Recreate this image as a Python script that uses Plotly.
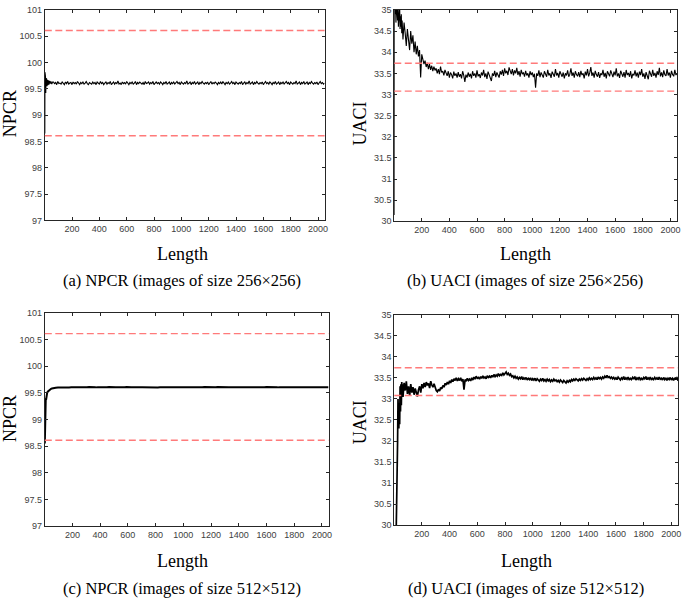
import plotly.graph_objects as go

W, H = 685, 601

# sampling grids for the settled part of the curves
STEP8_X = list(range(64, 2049, 8))
STEP16_X = list(range(64, 2049, 16))

# (a) NPCR, 256x256
A_EARLY_X = [1, 2, 3, 4, 5, 6, 8, 10, 12, 14, 17, 20, 23, 27, 31, 36, 41, 46, 52, 58]
A_EARLY_Y = [98.65, 99.82, 99.05, 99.78, 99.3, 99.74, 99.42, 99.7, 99.5, 99.69,
             99.55, 99.67, 99.57, 99.66, 99.58, 99.65, 99.6, 99.64, 99.59, 99.63]
A_MAIN_Y = [
    99.63, 99.60, 99.62, 99.58, 99.64, 99.60, 99.61, 99.59, 99.63, 99.61,
    99.58, 99.63, 99.60, 99.64, 99.59, 99.61, 99.62, 99.58, 99.63, 99.60,
    99.62, 99.59, 99.64, 99.61, 99.58, 99.62, 99.60, 99.63, 99.59, 99.61,
    99.64, 99.60, 99.58, 99.62, 99.61, 99.59, 99.63, 99.60, 99.62, 99.58,
    99.63, 99.61, 99.59, 99.64, 99.60, 99.62, 99.58, 99.61, 99.63, 99.59,
    99.62, 99.60, 99.64, 99.58, 99.61, 99.63, 99.59, 99.62, 99.60, 99.65,
    99.59, 99.61, 99.58, 99.63, 99.60, 99.62, 99.59, 99.64, 99.61, 99.58,
    99.62, 99.60, 99.63, 99.59, 99.61, 99.64, 99.58, 99.62, 99.60, 99.63,
    99.61, 99.59, 99.62, 99.58, 99.64, 99.60, 99.61, 99.63, 99.59, 99.62,
    99.60, 99.64, 99.58, 99.61, 99.63, 99.60, 99.62, 99.59, 99.63, 99.61,
    99.58, 99.62, 99.60, 99.64, 99.59, 99.61, 99.63, 99.58, 99.62, 99.60,
    99.63, 99.59, 99.61, 99.64, 99.60, 99.62, 99.58, 99.63, 99.61, 99.59,
    99.62, 99.60, 99.65, 99.59, 99.61, 99.63, 99.58, 99.62, 99.60, 99.64,
    99.59, 99.61, 99.63, 99.58, 99.62, 99.60, 99.64, 99.61, 99.59, 99.62,
    99.60, 99.63, 99.58, 99.61, 99.64, 99.59, 99.62, 99.60, 99.63, 99.61,
    99.58, 99.62, 99.60, 99.63, 99.59, 99.64, 99.61, 99.58, 99.62, 99.60,
    99.63, 99.59, 99.61, 99.64, 99.60, 99.62, 99.58, 99.63, 99.61, 99.59,
    99.62, 99.60, 99.64, 99.58, 99.61, 99.63, 99.59, 99.62, 99.60, 99.65,
    99.59, 99.61, 99.63, 99.58, 99.62, 99.60, 99.64, 99.61, 99.59, 99.62,
    99.60, 99.63, 99.58, 99.61, 99.64, 99.60, 99.62, 99.59, 99.63, 99.61,
    99.58, 99.62, 99.60, 99.64, 99.59, 99.61, 99.63, 99.58, 99.62, 99.60,
    99.63, 99.59, 99.61, 99.64, 99.60, 99.62, 99.58, 99.63, 99.61, 99.59,
    99.62, 99.60, 99.65, 99.59, 99.61, 99.63, 99.58, 99.62, 99.60, 99.64,
    99.59, 99.61, 99.63, 99.58, 99.62, 99.60, 99.64, 99.61, 99.59, 99.62,
    99.60, 99.63, 99.58, 99.61, 99.64, 99.60, 99.62, 99.59, 99.61,
]

# (b) UACI, 256x256
B_EARLY_X = [1, 2, 4, 6, 8, 10, 13, 16, 19, 22, 25, 28, 31, 34, 37, 40, 43, 46, 49, 52, 55, 58]
B_EARLY_Y = [30.15, 35.3, 34.8, 35.2, 34.9, 35.4, 34.7, 35.1, 34.85, 35.25, 34.75,
             35.05, 34.6, 34.95, 34.7, 35.1, 34.55, 34.85, 34.6, 34.9, 34.45, 34.75]
B_MAIN_Y = [
    34.30, 34.70, 34.45, 34.15, 34.55, 34.35, 34.05, 34.50, 34.20, 34.40,
    34.00, 34.25, 33.95, 34.15, 33.90, 34.05, 33.40, 33.95, 33.85, 33.72,
    33.80, 33.65, 33.75, 33.60, 33.72, 33.58, 33.68, 33.55, 33.66, 33.57,
    33.62, 33.50, 33.60, 33.48, 33.66, 33.52, 33.55, 33.45, 33.58, 33.50,
    33.44, 33.55, 33.40, 33.52, 33.47, 33.38, 33.54, 33.44, 33.50, 33.40,
    33.53, 33.42, 33.48, 33.38, 33.55, 33.45, 33.30, 33.47, 33.40, 33.52,
    33.42, 33.49, 33.38, 33.55, 33.44, 33.50, 33.40, 33.57, 33.43, 33.48,
    33.39, 33.52, 33.45, 33.58, 33.41, 33.50, 33.37, 33.54, 33.46, 33.42,
    33.32, 33.50, 33.44, 33.56, 33.41, 33.52, 33.46, 33.40, 33.55, 33.47,
    33.58, 33.44, 33.62, 33.50, 33.56, 33.46, 33.64, 33.52, 33.48, 33.60,
    33.45, 33.57, 33.50, 33.63, 33.46, 33.55, 33.42, 33.58, 33.48, 33.52,
    33.42, 33.56, 33.45, 33.50, 33.40, 33.55, 33.46, 33.52, 33.41, 33.49,
    33.16, 33.50, 33.44, 33.57, 33.41, 33.52, 33.46, 33.40, 33.55, 33.47,
    33.42, 33.58, 33.45, 33.50, 33.39, 33.54, 33.47, 33.42, 33.60, 33.45,
    33.51, 33.40, 33.55, 33.46, 33.42, 33.52, 33.38, 33.50, 33.45, 33.57,
    33.42, 33.48, 33.62, 33.44, 33.52, 33.40, 33.55, 33.47, 33.43, 33.53,
    33.41, 33.56, 33.46, 33.50, 33.38, 33.54, 33.45, 33.60, 33.43, 33.51,
    33.65, 33.44, 33.52, 33.40, 33.56, 33.47, 33.42, 33.53, 33.39, 33.50,
    33.46, 33.58, 33.42, 33.51, 33.38, 33.55, 33.46, 33.43, 33.57, 33.48,
    33.41, 33.54, 33.45, 33.62, 33.43, 33.50, 33.39, 33.56, 33.47, 33.42,
    33.53, 33.40, 33.58, 33.46, 33.51, 33.42, 33.55, 33.38, 33.49, 33.45,
    33.57, 33.43, 33.52, 33.40, 33.54, 33.46, 33.60, 33.42, 33.50, 33.37,
    33.53, 33.45, 33.36, 33.56, 33.47, 33.42, 33.58, 33.44, 33.51, 33.40,
    33.55, 33.46, 33.63, 33.43, 33.52, 33.41, 33.57, 33.47, 33.44, 33.60,
    33.45, 33.52, 33.40, 33.56, 33.47, 33.43, 33.58, 33.46, 33.50,
]

# (c) NPCR, 512x512
C_EARLY_X = [1, 2, 3, 4, 5, 6, 8, 10, 12, 15, 18, 22, 26, 30, 35, 40, 46, 52, 58]
C_EARLY_Y = [98.55, 99.05, 99.2, 99.12, 99.32, 99.28, 99.4, 99.37, 99.45, 99.47,
             99.5, 99.52, 99.53, 99.55, 99.56, 99.57, 99.575, 99.58, 99.585]
C_MAIN_Y = [
    99.590, 99.595, 99.600, 99.598, 99.603, 99.600, 99.605, 99.601, 99.604, 99.600,
    99.606, 99.602, 99.604, 99.600, 99.605, 99.603, 99.607, 99.601, 99.604, 99.602,
    99.606, 99.603, 99.605, 99.601, 99.604, 99.607, 99.602, 99.605, 99.603, 99.606,
    99.602, 99.605, 99.603, 99.607, 99.601, 99.604, 99.606, 99.602, 99.605, 99.603,
    99.606, 99.604, 99.602, 99.605, 99.603, 99.607, 99.604, 99.601, 99.605, 99.603,
    99.606, 99.602, 99.605, 99.608, 99.603, 99.605, 99.602, 99.606, 99.604, 99.607,
    99.603, 99.605, 99.610, 99.604, 99.606, 99.602, 99.605, 99.603, 99.607, 99.604,
    99.606, 99.602, 99.605, 99.603, 99.607, 99.604, 99.606, 99.602, 99.605, 99.603,
    99.606, 99.604, 99.602, 99.605, 99.603, 99.607, 99.604, 99.606, 99.602, 99.605,
    99.603, 99.606, 99.604, 99.602, 99.605, 99.603, 99.607, 99.604, 99.606, 99.603,
    99.605, 99.602, 99.606, 99.604, 99.607, 99.603, 99.610, 99.605, 99.602, 99.606,
    99.604, 99.603, 99.605, 99.602, 99.606, 99.604, 99.603, 99.605, 99.602, 99.604,
    99.606, 99.603, 99.605, 99.602, 99.604,
]

# (d) UACI, 512x512
D_EARLY_X = [1, 5, 10, 15, 18, 20, 22, 25, 28, 31, 34, 37, 40, 43, 46, 49, 52, 55, 58, 61]
D_EARLY_Y = [27.5, 28.6, 29.4, 29.9, 30.5, 31.6, 30.8, 32.0, 33.0, 32.5, 32.3, 32.9,
             32.4, 33.3, 32.7, 33.35, 32.85, 33.4, 33.05, 33.35]
D_MAIN_Y = [
    33.05, 33.38, 33.20, 33.42, 33.12, 33.30, 33.08, 33.35, 33.15, 33.28,
    33.10, 33.25, 33.18, 33.06, 33.22, 33.30, 33.15, 33.35, 33.25, 33.38,
    33.28, 33.40, 33.32, 33.37, 33.26, 33.42, 33.33, 33.28, 33.36, 33.25,
    33.20, 33.17, 33.23, 33.19, 33.27, 33.24, 33.32, 33.28, 33.37, 33.33,
    33.40, 33.35, 33.43, 33.38, 33.46, 33.41, 33.48, 33.44, 33.50, 33.43,
    33.48, 33.44, 33.50, 33.42, 33.47, 33.22, 33.46, 33.42, 33.49, 33.44,
    33.47, 33.43, 33.50, 33.45, 33.52, 33.47, 33.54, 33.49, 33.51, 33.47,
    33.53, 33.49, 33.55, 33.50, 33.52, 33.48, 33.55, 33.51, 33.54, 33.50,
    33.56, 33.52, 33.58, 33.53, 33.57, 33.54, 33.60, 33.55, 33.58, 33.56,
    33.62, 33.57, 33.60, 33.64, 33.58, 33.61, 33.56, 33.59, 33.53, 33.55,
    33.50, 33.54, 33.49, 33.52, 33.47, 33.51, 33.48, 33.53, 33.46, 33.50,
    33.47, 33.51, 33.45, 33.49, 33.46, 33.50, 33.44, 33.48, 33.45, 33.49,
    33.43, 33.48, 33.45, 33.42, 33.47, 33.44, 33.49, 33.43, 33.46, 33.42,
    33.47, 33.43, 33.46, 33.41, 33.45, 33.42, 33.47, 33.43, 33.45, 33.41,
    33.44, 33.40, 33.45, 33.42, 33.39, 33.44, 33.41, 33.38, 33.43, 33.40,
    33.44, 33.41, 33.46, 33.43, 33.47, 33.44, 33.48, 33.45, 33.43, 33.47,
    33.44, 33.48, 33.45, 33.49, 33.46, 33.44, 33.48, 33.45, 33.50, 33.46,
    33.49, 33.46, 33.51, 33.47, 33.50, 33.46, 33.52, 33.48, 33.51, 33.47,
    33.52, 33.49, 33.54, 33.50, 33.56, 33.51, 33.53, 33.49, 33.52, 33.48,
    33.51, 33.47, 33.50, 33.46, 33.52, 33.48, 33.45, 33.50, 33.47, 33.53,
    33.46, 33.50, 33.47, 33.52, 33.45, 33.49, 33.46, 33.51, 33.47, 33.53,
    33.45, 33.50, 33.47, 33.52, 33.46, 33.49, 33.45, 33.51, 33.48, 33.53,
    33.46, 33.50, 33.47, 33.52, 33.45, 33.49, 33.46, 33.51, 33.47, 33.50,
    33.46, 33.52, 33.47, 33.49, 33.45, 33.51, 33.46, 33.50, 33.44, 33.49,
    33.46, 33.51, 33.45, 33.49, 33.44, 33.50, 33.46, 33.52, 33.43,
]

NPCR_BOUNDS = [100.6094, 98.6094]
UACI_BOUNDS = [33.74, 33.08]

CAPTIONS = [
    '(a) NPCR (images of size 256×256)',
    '(b) UACI (images of size 256×256)',
    '(c) NPCR (images of size 512×512)',
    '(d) UACI (images of size 512×512)',
]


def fx(px):
    return px / W


def fy(py):
    return 1 - py / H


# pixel boxes of the four plot areas: left, right, top, bottom
panels = [
    dict(x=A_EARLY_X + STEP8_X, y=A_EARLY_Y + A_MAIN_Y, box=(45, 326, 5, 219),
         yr=[97, 101], bounds=NPCR_BOUNDS, ylab='NPCR', ylab_pos=(10, 110),
         len_pos=(183, 253), cap_pos=(183, 280), lw=1.1),
    dict(x=B_EARLY_X + STEP8_X, y=B_EARLY_Y + B_MAIN_Y, box=(396, 680, 5, 220),
         yr=[30, 35], bounds=UACI_BOUNDS, ylab='UACI', ylab_pos=(362, 120),
         len_pos=(528, 253), cap_pos=(527, 280), lw=1.1),
    dict(x=C_EARLY_X + STEP16_X, y=C_EARLY_Y + C_MAIN_Y, box=(45, 330, 313, 530),
         yr=[97, 101], bounds=NPCR_BOUNDS, ylab='NPCR', ylab_pos=(10, 420),
         len_pos=(183, 565), cap_pos=(183, 593), lw=2),
    dict(x=D_EARLY_X + STEP8_X, y=D_EARLY_Y + D_MAIN_Y, box=(396, 681, 315, 529),
         yr=[30, 35], bounds=UACI_BOUNDS, ylab='UACI', ylab_pos=(362, 424),
         len_pos=(529, 565), cap_pos=(528, 593), lw=1.7),
]

fig = go.Figure()
layout = dict(
    width=W, height=H,
    margin=dict(l=0, r=0, t=0, b=0),
    paper_bgcolor='white', plot_bgcolor='white',
    showlegend=False,
    annotations=[], shapes=[],
)

tick_font = dict(family='Liberation Sans, Arial', size=9, color='#404040')
serif = 'Liberation Serif, Times New Roman'

for i, p in enumerate(panels, start=1):
    xa = 'x' if i == 1 else f'x{i}'
    ya = 'y' if i == 1 else f'y{i}'
    left, right, top, bottom = p['box']
    axis_common = dict(
        showline=True, linecolor='#262626', linewidth=1, mirror='ticks',
        ticks='inside', ticklen=3, tickcolor='#262626', tickwidth=1,
        showgrid=False, zeroline=False, tickfont=tick_font,
    )
    layout['xaxis' if i == 1 else f'xaxis{i}'] = dict(
        axis_common, domain=[fx(left), fx(right)], range=[1, 2048],
        tickmode='array', tickvals=list(range(200, 2001, 200)),
        anchor=ya,
    )
    layout['yaxis' if i == 1 else f'yaxis{i}'] = dict(
        axis_common, domain=[fy(bottom), fy(top)], range=p['yr'],
        dtick=0.5, tick0=p['yr'][0], anchor=xa,
    )
    for b in p['bounds']:
        layout['shapes'].append(dict(
            type='line', xref=f'{xa} domain', yref=ya, x0=0, x1=1, y0=b, y1=b,
            line=dict(color='#ff7a7a', width=1.4, dash='7px,3.5px'),
        ))
    fig.add_trace(go.Scatter(
        x=p['x'], y=p['y'], mode='lines', xaxis=xa, yaxis=ya,
        line=dict(color='black', width=p['lw']),
    ))
    layout['annotations'] += [
        dict(text=p['ylab'], x=fx(p['ylab_pos'][0]), y=fy(p['ylab_pos'][1]),
             xref='paper', yref='paper', showarrow=False, textangle=-90,
             xanchor='center', yanchor='middle',
             font=dict(family=serif, size=18, color='black')),
        dict(text='Length', x=fx(p['len_pos'][0]), y=fy(p['len_pos'][1]),
             xref='paper', yref='paper', showarrow=False,
             xanchor='center', yanchor='middle',
             font=dict(family=serif, size=18, color='black')),
        dict(text=CAPTIONS[i - 1], x=fx(p['cap_pos'][0]), y=fy(p['cap_pos'][1]),
             xref='paper', yref='paper', showarrow=False,
             xanchor='center', yanchor='middle',
             font=dict(family=serif, size=16.5, color='black')),
    ]

fig.update_layout(layout)
# drop the default 8px page margin so the figure starts at the window corner
fig.write_html('out.html', config={'displayModeBar': False},
               post_script="document.body.style.margin='0';")
